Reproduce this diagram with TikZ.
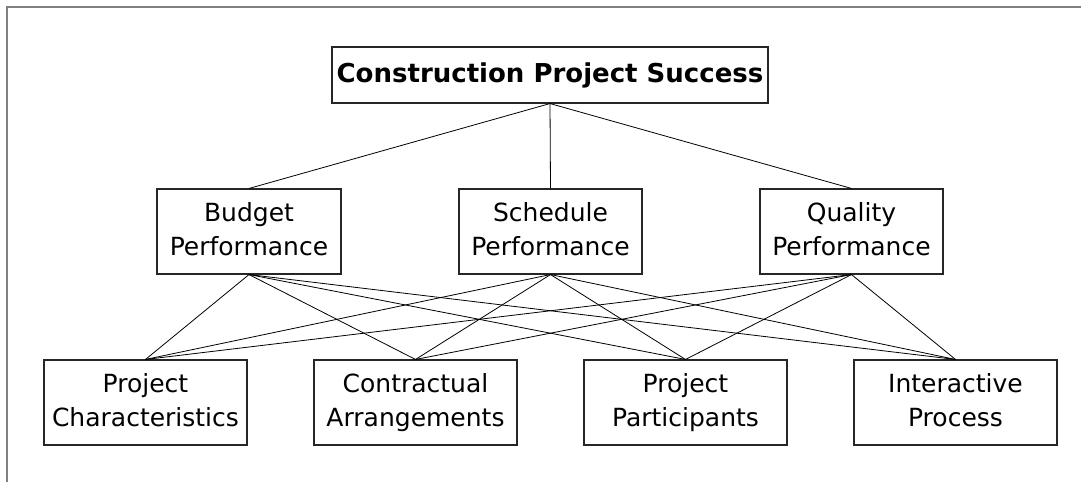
\documentclass[tikz,border=0pt]{standalone}
\usepackage{fontspec}
\setmainfont{DejaVu Sans}
\newcommand{\twolines}[2]{\strut#1\\\strut#2}
\begin{document}
\begin{tikzpicture}[x=1pt,y=-1pt,
  box/.style={draw=black!85,line width=1.1pt,rectangle,inner sep=0pt,align=center,
    minimum height=85pt,font=\fontsize{25}{34.5}\selectfont},
  link/.style={draw=black,line width=0.8pt}]
\useasboundingbox (0,0) rectangle (1081,482);
% frame (top and left edges visible)
\coordinate (f1) at (7,482);
\coordinate (f2) at (7,7);
\coordinate (f3) at (1081,7);
\draw[black!50,line width=1.6pt] (f1) -- (f2) -- (f3);
% top
\node[box,minimum width=436pt,minimum height=56pt,font=\fontsize{26}{34}\selectfont\bfseries] (top) at (550,75) {Construction Project Success};
% middle
\node[box,minimum width=184pt] (bud) at (249,231.5) {\twolines{Budget}{Performance}};
\node[box,minimum width=183pt] (sch) at (550.5,231.5) {\twolines{Schedule}{Performance}};
\node[box,minimum width=183pt] (qua) at (851.5,231.5) {\twolines{Quality}{Performance}};
% bottom
\node[box,minimum width=203pt] (pc) at (145.5,402.5) {\twolines{Project}{Characteristics}};
\node[box,minimum width=203pt] (ca) at (415.5,402.5) {\twolines{Contractual}{Arrangements}};
\node[box,minimum width=203pt] (pp) at (685.5,402.5) {\twolines{Project}{Participants}};
\node[box,minimum width=203pt] (ip) at (955.5,402.5) {\twolines{Interactive}{Process}};
% links
\foreach \m in {bud,sch,qua}{
  \draw[link] (top.south) -- (\m.north);
  \foreach \b in {pc,ca,pp,ip}{
    \draw[link] (\m.south) -- (\b.north);
  }
}
\end{tikzpicture}
\end{document}
